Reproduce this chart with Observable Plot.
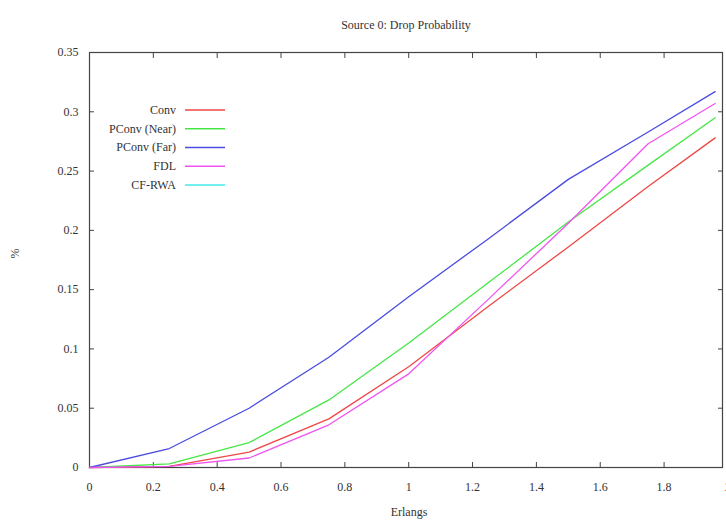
<!DOCTYPE html>
<html>
<head>
<meta charset="utf-8">
<script src="https://cdn.jsdelivr.net/npm/d3@7"></script>
<script src="https://cdn.jsdelivr.net/npm/@observablehq/plot@0.6"></script>
<style>
  html, body { margin: 0; padding: 0; background: #fff; overflow: hidden; }
  #chart { width: 726px; height: 520px; }
</style>
</head>
<body>
<div id="chart"></div>
<script>
// Offered load (Erlangs) at which each scheme was simulated
const erlangs = [0, 0.25, 0.5, 0.75, 1, 1.25, 1.5, 1.75, 1.96];

// Drop probability per scheme
const conv      = [0, 0.001, 0.013, 0.041, 0.085, 0.136, 0.186, 0.237, 0.278];
const pconvNear = [0, 0.003, 0.021, 0.057, 0.105, 0.156, 0.207, 0.255, 0.295];
const pconvFar  = [0, 0.016, 0.050, 0.093, 0.144, 0.193, 0.243, 0.283, 0.317];
const fdl       = [0, 0.001, 0.008, 0.036, 0.079, 0.142, 0.206, 0.273, 0.307];
const cfRwa     = [];

const seriesNames  = ["Conv", "PConv (Near)", "PConv (Far)", "FDL", "CF-RWA"];
const seriesColors = ["#ef4646", "#46e646", "#4b4be0", "#f055f0", "#46eaea"];

const xTicks = [0, 0.2, 0.4, 0.6, 0.8, 1, 1.2, 1.4, 1.6, 1.8, 2];
const yTicks = [0, 0.05, 0.1, 0.15, 0.2, 0.25, 0.3, 0.35];

const titleText = "Source 0: Drop Probability";
const xLabel = "Erlangs";
const yLabel = "%";

// Long-format rows for the line mark
const seriesValues = [conv, pconvNear, pconvFar, fdl, cfRwa];
const rows = seriesNames.flatMap((name, i) =>
  seriesValues[i].map((v, j) => ({series: name, erlangs: erlangs[j], drop: v}))
);

const font = "'Liberation Serif', 'Times New Roman', serif";
const ink = "#333";
const frameColor = "#444";

const chart = Plot.plot({
  width: 726,
  height: 520,
  marginLeft: 89,
  marginRight: 4,
  marginTop: 52,
  marginBottom: 53,
  style: {fontFamily: font, fontSize: "12px", color: ink, background: "#fff"},
  x: {domain: [0, 1.983]},
  y: {domain: [0, 0.35]},
  color: {domain: seriesNames, range: seriesColors},
  marks: [
    // inward ticks on all four sides, labels only bottom and left
    Plot.axisX({ticks: xTicks, anchor: "bottom", tickSize: -5, tickPadding: 20, stroke: frameColor, fill: ink, label: null, tickFormat: d => `${d}`}),
    Plot.axisX({ticks: xTicks, anchor: "top", tickSize: -5, stroke: frameColor, fill: "none", label: null}),
    Plot.axisY({ticks: yTicks, anchor: "left", tickSize: -5, tickPadding: 16, stroke: frameColor, fill: ink, label: null, tickFormat: d => `${d}`}),
    Plot.axisY({ticks: yTicks, anchor: "right", tickSize: -5, stroke: frameColor, fill: "none", label: null}),
    Plot.frame({stroke: frameColor, strokeWidth: 1.2}),
    Plot.line(rows, {x: "erlangs", y: "drop", z: "series", stroke: "series", strokeWidth: 1.3}),
    Plot.text([titleText], {frameAnchor: "top", dy: -32, fill: ink, fontSize: 12}),
    Plot.text([xLabel], {frameAnchor: "bottom", dx: 3, dy: 48, fill: ink, fontSize: 12}),
    Plot.text([yLabel], {frameAnchor: "left", dx: -74, dy: -1.5, rotate: -90, fill: ink, fontSize: 12})
  ]
});

// Key in the upper-left corner of the plot area
const key = d3.select(chart).append("g")
  .attr("font-family", font)
  .attr("font-size", 12)
  .attr("fill", ink);
seriesNames.forEach((name, i) => {
  const y = 110 + i * 18.75;
  key.append("text")
    .attr("x", 176).attr("y", y).attr("dy", "0.32em")
    .attr("text-anchor", "end")
    .text(name);
  key.append("line")
    .attr("x1", 185).attr("x2", 225).attr("y1", y).attr("y2", y)
    .attr("stroke", seriesColors[i]).attr("stroke-width", 1.3);
});

document.getElementById("chart").appendChild(chart);
</script>
</body>
</html>
